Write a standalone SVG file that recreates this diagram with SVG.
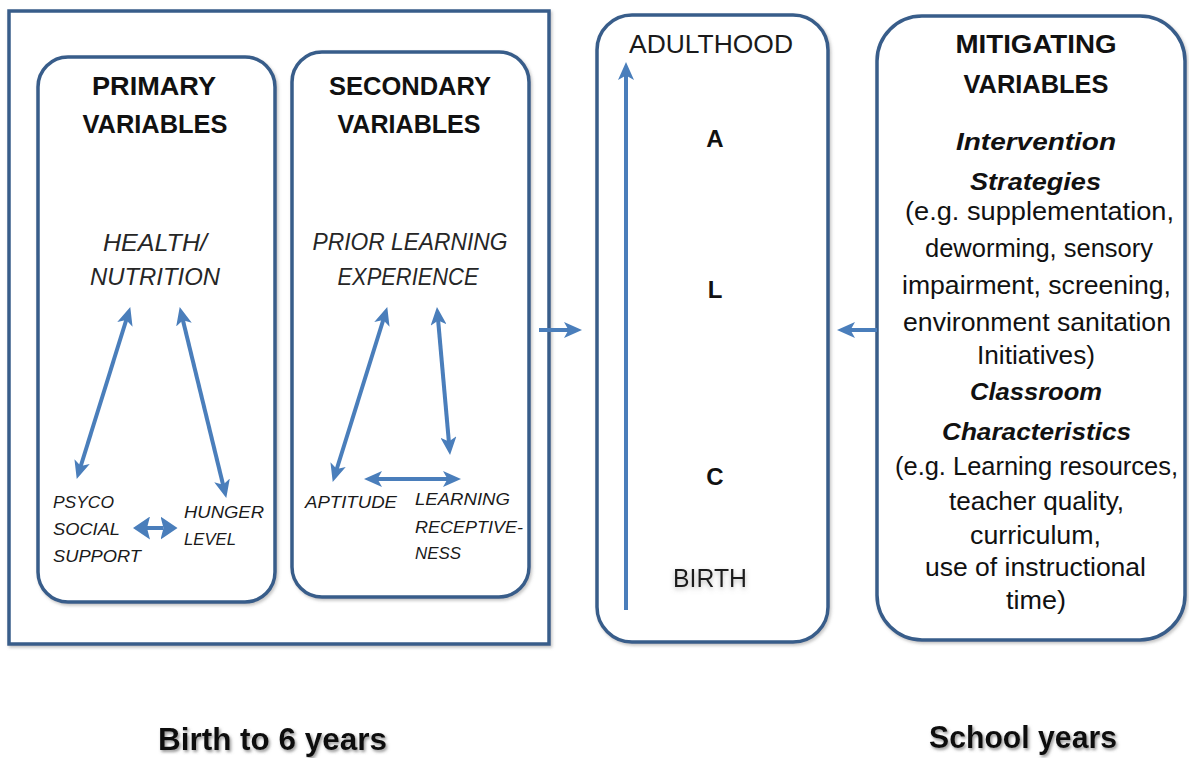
<svg xmlns="http://www.w3.org/2000/svg" width="1189" height="758" viewBox="0 0 1189 758">
<style>
  .box { fill: #ffffff; stroke: #385d8a; stroke-width: 3.5; filter: url(#boxshadow); }
  .conn { stroke: #4a7ebb; stroke-width: 4; fill: none; }
  .t { font-family: "Liberation Sans", Arial, sans-serif; fill: #111; }
  .hdr { font-size: 26px; font-weight: bold; text-anchor: middle; }
  .ital { font-size: 24px; font-style: italic; fill: #262626; text-anchor: middle; }
  .small { font-size: 17px; font-style: italic; fill: #1a1a1a; }
  .body { font-size: 25px; text-anchor: middle; }
  .bi { font-size: 24px; font-weight: bold; font-style: italic; text-anchor: middle; }
  .life { font-size: 26px; text-anchor: middle; fill: #1a1a1a; }
  .letter { font-size: 24px; font-weight: bold; text-anchor: middle; }
  .foot { font-size: 32px; font-weight: bold; filter: url(#txtshadow); }
</style>
<defs>
  <filter id="boxshadow" x="-5%" y="-5%" width="110%" height="110%">
    <feDropShadow dx="1.5" dy="2" stdDeviation="1.5" flood-color="#7f7f7f" flood-opacity="0.45"/>
  </filter>
  <filter id="txtshadow" x="-10%" y="-30%" width="120%" height="160%">
    <feDropShadow dx="1.5" dy="2" stdDeviation="1.5" flood-color="#666" flood-opacity="0.7"/>
  </filter>
  <filter id="glow" x="-20%" y="-40%" width="140%" height="180%">
    <feDropShadow dx="0" dy="2" stdDeviation="2.5" flood-color="#888" flood-opacity="0.6"/>
  </filter>
  <marker id="ah" viewBox="0 0 18 16" markerUnits="userSpaceOnUse" markerWidth="18" markerHeight="16" refX="5" refY="8" orient="auto-start-reverse">
    <path d="M0,0 L18,8 L0,16 L4.5,8 z" fill="#4a7ebb"/>
  </marker>
  <marker id="ahb" viewBox="0 0 17 23" markerUnits="userSpaceOnUse" markerWidth="17" markerHeight="23" refX="3" refY="11.5" orient="auto-start-reverse">
    <path d="M0,0 L17,11.5 L0,23 L3,11.5 z" fill="#4a7ebb"/>
  </marker>
</defs>

<rect width="1189" height="758" fill="#ffffff"/>

<g id="birth-to-six">
  <rect class="box" x="9" y="11" width="540" height="633"/>
</g>

<g id="primary-variables">
  <rect class="box" x="38" y="57" width="237" height="545" rx="30" ry="30"/>
  <text class="t hdr" x="154" y="95" textLength="124" lengthAdjust="spacingAndGlyphs">PRIMARY</text>
  <text class="t hdr" x="155" y="133" textLength="145" lengthAdjust="spacingAndGlyphs">VARIABLES</text>
</g>

<g id="health-nutrition">
  <text class="t ital" x="155" y="251" textLength="104" lengthAdjust="spacingAndGlyphs">HEALTH/</text>
  <text class="t ital" x="155" y="285" textLength="130" lengthAdjust="spacingAndGlyphs">NUTRITION</text>
</g>

<g id="psycho-social-support">
  <text class="t small" x="53" y="508" textLength="61" lengthAdjust="spacingAndGlyphs">PSYCO</text>
  <text class="t small" x="53" y="535" textLength="67" lengthAdjust="spacingAndGlyphs">SOCIAL</text>
  <text class="t small" x="53" y="562" textLength="88" lengthAdjust="spacingAndGlyphs">SUPPORT</text>
</g>

<g id="hunger-level">
  <text class="t small" x="184" y="518" textLength="80" lengthAdjust="spacingAndGlyphs">HUNGER</text>
  <text class="t small" x="184" y="545" textLength="52" lengthAdjust="spacingAndGlyphs">LEVEL</text>
</g>

<g id="secondary-variables">
  <rect class="box" x="292" y="52" width="237" height="545" rx="30" ry="30"/>
  <text class="t hdr" x="410" y="95" textLength="162" lengthAdjust="spacingAndGlyphs">SECONDARY</text>
  <text class="t hdr" x="409" y="133" textLength="143" lengthAdjust="spacingAndGlyphs">VARIABLES</text>
</g>

<g id="prior-learning">
  <text class="t ital" x="410" y="250" textLength="195" lengthAdjust="spacingAndGlyphs">PRIOR LEARNING</text>
  <text class="t ital" x="408" y="285" textLength="141" lengthAdjust="spacingAndGlyphs">EXPERIENCE</text>
</g>

<g id="aptitude">
  <text class="t small" x="305" y="508" textLength="92" lengthAdjust="spacingAndGlyphs">APTITUDE</text>
</g>

<g id="learning-receptiveness">
  <text class="t small" x="415" y="505" textLength="95" lengthAdjust="spacingAndGlyphs">LEARNING</text>
  <text class="t small" x="415" y="533" textLength="108" lengthAdjust="spacingAndGlyphs">RECEPTIVE-</text>
  <text class="t small" x="415" y="559" textLength="46" lengthAdjust="spacingAndGlyphs">NESS</text>
</g>

<g id="alc">
  <rect class="box" x="597" y="15" width="231" height="627" rx="35" ry="35"/>
  <text class="t life" x="711" y="53" textLength="164" lengthAdjust="spacingAndGlyphs">ADULTHOOD</text>
  <text class="t letter" x="715" y="147">A</text>
  <text class="t letter" x="715" y="298">L</text>
  <text class="t letter" x="715" y="485">C</text>
  <text class="t life" x="710" y="587" font-size="25" textLength="74" lengthAdjust="spacingAndGlyphs" filter="url(#glow)">BIRTH</text>
</g>

<g id="mitigating-variables">
  <rect class="box" x="877" y="16" width="308" height="624" rx="45" ry="45"/>
  <text class="t hdr" x="1036" y="53" textLength="161" lengthAdjust="spacingAndGlyphs">MITIGATING</text>
  <text class="t hdr" x="1036" y="93" textLength="145" lengthAdjust="spacingAndGlyphs">VARIABLES</text>
  <text class="t bi" x="1036" y="150" textLength="160" lengthAdjust="spacingAndGlyphs">Intervention</text>
  <text class="t bi" x="1035.5" y="190" textLength="131" lengthAdjust="spacingAndGlyphs">Strategies</text>
  <text class="t body" x="1039.5" y="220" textLength="269" lengthAdjust="spacingAndGlyphs">(e.g. supplementation,</text>
  <text class="t body" x="1039" y="257" textLength="228" lengthAdjust="spacingAndGlyphs">deworming, sensory</text>
  <text class="t body" x="1036.5" y="294" textLength="269" lengthAdjust="spacingAndGlyphs">impairment, screening,</text>
  <text class="t body" x="1037" y="331" textLength="268" lengthAdjust="spacingAndGlyphs">environment sanitation</text>
  <text class="t body" x="1036" y="364" textLength="118" lengthAdjust="spacingAndGlyphs">Initiatives)</text>
  <text class="t bi" x="1036" y="400" textLength="132" lengthAdjust="spacingAndGlyphs">Classroom</text>
  <text class="t bi" x="1036.5" y="440" textLength="189" lengthAdjust="spacingAndGlyphs">Characteristics</text>
  <text class="t body" x="1036.5" y="475" textLength="283" lengthAdjust="spacingAndGlyphs">(e.g. Learning resources,</text>
  <text class="t body" x="1036.5" y="510" textLength="175" lengthAdjust="spacingAndGlyphs">teacher quality,</text>
  <text class="t body" x="1035.5" y="544" textLength="131" lengthAdjust="spacingAndGlyphs">curriculum,</text>
  <text class="t body" x="1035.5" y="576" textLength="221" lengthAdjust="spacingAndGlyphs">use of instructional</text>
  <text class="t body" x="1036" y="609" textLength="60" lengthAdjust="spacingAndGlyphs">time)</text>
</g>

<g id="label-birth-to-6">
  <text class="t foot" x="158" y="750" textLength="229" lengthAdjust="spacingAndGlyphs">Birth to 6 years</text>
</g>
<g id="label-school-years">
  <text class="t foot" x="929" y="748" font-size="31" textLength="188" lengthAdjust="spacingAndGlyphs">School years</text>
</g>

<g id="connectors">
  <line class="conn" x1="126.4" y1="319.5" x2="80.6" y2="466.5" marker-start="url(#ah)" marker-end="url(#ah)"/>
  <line class="conn" x1="182.8" y1="319.7" x2="223.2" y2="485.3" marker-start="url(#ah)" marker-end="url(#ah)"/>
  <line class="conn" x1="147" y1="528" x2="163.5" y2="528" stroke-width="6" marker-start="url(#ahb)" marker-end="url(#ahb)"/>
  <line class="conn" x1="383.4" y1="319.5" x2="336.6" y2="469.5" marker-start="url(#ah)" marker-end="url(#ah)"/>
  <line class="conn" x1="438.1" y1="320" x2="448.9" y2="442" marker-start="url(#ah)" marker-end="url(#ah)"/>
  <line class="conn" x1="377" y1="479" x2="448" y2="479" marker-start="url(#ah)" marker-end="url(#ah)"/>
  <line class="conn" x1="539" y1="330" x2="569" y2="330" marker-end="url(#ah)"/>
  <line class="conn" x1="877" y1="330" x2="850" y2="330" marker-end="url(#ah)"/>
  <line class="conn" x1="626" y1="610" x2="626" y2="75" marker-end="url(#ah)"/>
</g>
</svg>
